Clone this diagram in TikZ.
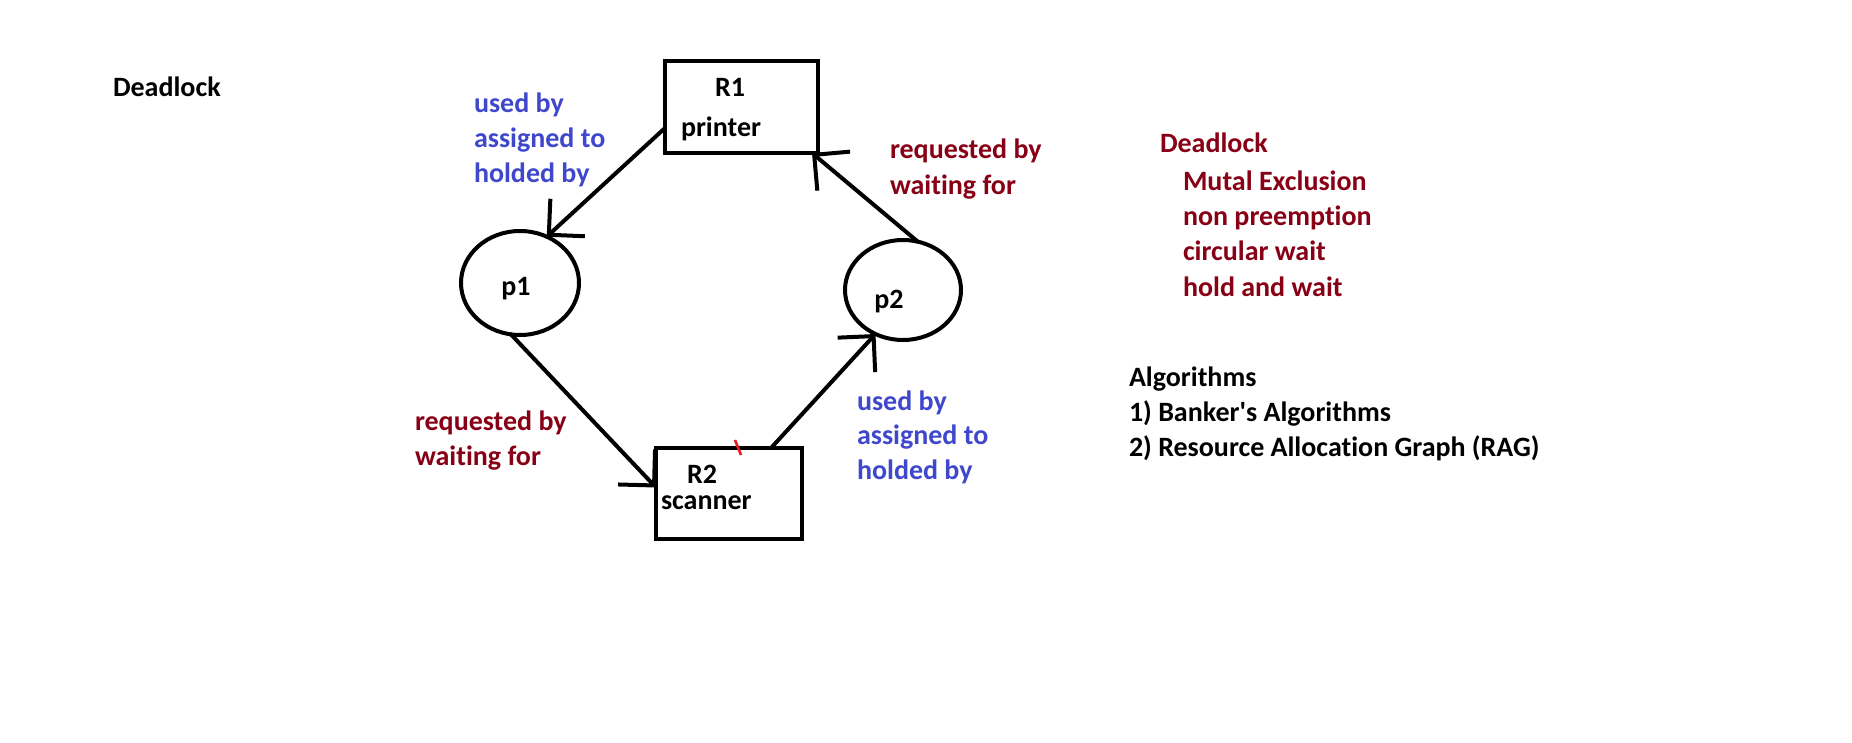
\documentclass[tikz,border=0pt]{standalone}
\usepackage{fontspec}
\setmainfont{Carlito}[Ligatures={NoCommon}]
\usetikzlibrary{arrows.meta,shapes.geometric,calc}
\definecolor{pblue}{HTML}{3F48CC}
\definecolor{pred}{HTML}{880015}
\definecolor{ptick}{HTML}{ED1C24}
\begin{document}
\begin{tikzpicture}[x=0.5pt,y=-0.5pt,
  txt/.style={inner sep=0pt,outer sep=0pt,anchor=base west,font=\bfseries\fontsize{14}{17}\selectfont},
  ctxt/.style={txt,anchor=base},
  bluetxt/.style={txt,text=pblue},
  redtxt/.style={txt,text=pred},
  resbox/.style={draw,line width=2pt,rectangle,inner sep=0pt,outer sep=0pt},
  proc/.style={draw,line width=2pt,ellipse,inner sep=0pt,outer sep=0pt},
  arr/.style={line width=2pt,line cap=round,-{Straight Barb[angle=90:18pt]}}
]
\useasboundingbox (0,0) rectangle (1852,743);
\fill[white] (0,0) rectangle (1852,743);

% title
\node[txt] (title) at (113,97) {Deadlock};

% resources and processes
\node[resbox,minimum width=76.5pt,minimum height=46pt] (R1) at (741.5,107) {};
\node[ctxt] (R1name) at (730,97) {R1};
\node[txt] (R1dev) at (681,137) {printer};

\node[resbox,minimum width=73pt,minimum height=45.5pt] (R2) at (729,493.5) {};
\node[ctxt] (R2name) at (702,483) {R2};
\node[txt] (R2dev) at (661,509) {scanner};

\node[proc,minimum width=59pt,minimum height=52pt] (p1) at (520,283) {};
\node[ctxt] (p1name) at (516,295) {p1};
\node[proc,minimum width=58pt,minimum height=50pt] (p2) at (903,290) {};
\node[ctxt] (p2name) at (889,308) {p2};

% edges
\draw[arr] ($(R1.west)+(0,21)$) -- (p1.60);
\draw[arr] (p1.260) -- ($(R2.west)+(0,-6)$);
\draw[arr] ($(R2.north)+(42,0)$) -- (p2.238);
\draw[arr] (p2.73) -- ($(R1.south east)+(-6,0)$);

% stray red mark
\draw[ptick,line width=1.3pt] (735,440) -- (741,455);

% edge labels
\node[bluetxt] (a1) at (474,113) {used by};
\node[bluetxt] (a2) at (474,148) {assigned to};
\node[bluetxt] (a3) at (474,183) {holded by};

\node[redtxt] (b1) at (890,159) {requested by};
\node[redtxt] (b2) at (890,195) {waiting for};

\node[redtxt] (c1) at (415,430) {requested by};
\node[redtxt] (c2) at (415,465) {waiting for};

\node[bluetxt] (d1) at (857,410) {used by};
\node[bluetxt] (d2) at (857,444) {assigned to};
\node[bluetxt] (d3) at (857,479) {holded by};

% right notes
\node[redtxt] (n0) at (1160,153) {Deadlock};
\node[redtxt] (n1) at (1183,191) {Mutal Exclusion};
\node[redtxt] (n2) at (1183,226) {non preemption};
\node[redtxt] (n3) at (1183,261) {circular wait};
\node[redtxt] (n4) at (1183,296) {hold and wait};

\node[txt] (g0) at (1129,386) {Algorithms};
\node[txt] (g1) at (1129,421) {1) Banker\textquotesingle s Algorithms};
\node[txt] (g2) at (1129,456) {2) Resource Allocation Graph (RAG)};
\end{tikzpicture}
\end{document}
